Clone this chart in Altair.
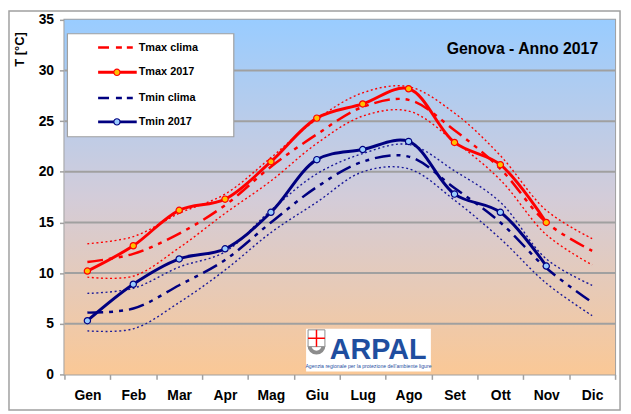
import altair as alt
import pandas as pd

months = ["Gen", "Feb", "Mar", "Apr", "Mag", "Giu", "Lug", "Ago", "Set", "Ott", "Nov", "Dic"]
tmax_2017 = [10.2, 12.7, 16.2, 17.3, 21.0, 25.3, 26.7, 28.2, 22.9, 20.7, 15.0, None]
tmin_2017 = [5.3, 8.9, 11.4, 12.4, 16.0, 21.2, 22.2, 23.0, 17.8, 16.0, 10.7, None]
tmax_clima = [11.1, 11.9, 13.9, 16.7, 20.5, 23.7, 26.4, 27.1, 24.1, 20.3, 15.0, 12.2]
tmin_clima = [6.1, 6.5, 8.8, 11.3, 15.0, 18.5, 21.0, 21.5, 18.4, 15.0, 10.5, 7.1]
tmax_hi = [12.9, 13.6, 15.9, 17.8, 21.4, 25.2, 27.8, 28.4, 25.8, 21.6, 16.2, 13.4]
tmax_lo = [9.6, 9.7, 12.5, 15.9, 19.1, 22.8, 25.5, 26.0, 23.0, 19.2, 13.8, 10.8]
tmin_hi = [8.0, 8.5, 10.6, 12.1, 16.2, 19.8, 21.8, 22.7, 20.1, 17.0, 11.4, 8.8]
tmin_lo = [4.3, 4.5, 7.1, 10.3, 14.0, 17.0, 20.0, 20.3, 17.2, 13.4, 9.0, 5.8]
y_ticks = [0, 5, 10, 15, 20, 25, 30, 35]
grid_vals = [5, 10, 15, 20, 25, 30]
legend_labels = ["Tmax clima", "Tmax 2017", "Tmin clima", "Tmin 2017"]
title_text = "Genova - Anno 2017"

FONT = "Arial, Liberation Sans, sans-serif"
W, H = 556, 358
RED = "#FF0000"
NAVY = "#000080"
GRID = "#A0A0A0"

df = pd.DataFrame({
    "month": months,
    "tmax_2017": tmax_2017, "tmin_2017": tmin_2017,
    "tmax_clima": tmax_clima, "tmin_clima": tmin_clima,
    "tmax_hi": tmax_hi, "tmax_lo": tmax_lo,
    "tmin_hi": tmin_hi, "tmin_lo": tmin_lo,
})

xscale = alt.Scale(type="band", domain=months, paddingInner=0, paddingOuter=0)
xaxis = alt.Axis(title=None, tickBand="extent", labelFont=FONT, labelFontSize=14,
                 labelFontWeight="bold", labelColor="black", tickColor=GRID,
                 tickSize=5, tickWidth=1.5, domain=False, labelPadding=9,
                 grid=False, labelAngle=0)
yscale = alt.Scale(domain=[0, 35], nice=False)
yaxis = alt.Axis(values=y_ticks, title="T [°C]", titleFont=FONT, titleFontSize=13,
                 titleFontWeight="bold", titleColor="black", titleAngle=270,
                 titleX=-45, titleY=12, titleAlign="right", titleBaseline="middle",
                 labelFont=FONT, labelFontSize=14, labelFontWeight="bold",
                 labelColor="black", tickColor=GRID, tickSize=5, tickWidth=1.5,
                 domain=False, grid=False, labelPadding=6)


def X():
    return alt.X("month:N", sort=months, scale=xscale, axis=xaxis, bandPosition=0.5)


def Y(field):
    return alt.Y(f"{field}:Q", scale=yscale, axis=yaxis)


one = pd.DataFrame({"a": [0]})
base = alt.Chart(df)

bg = alt.Chart(one).mark_rect(
    fill=alt.Gradient(gradient="linear",
                      stops=[alt.GradientStop(color="#99CCFF", offset=0),
                             alt.GradientStop(color="#D3CCD9", offset=0.5),
                             alt.GradientStop(color="#FAC896", offset=1)],
                      x1=0, x2=0, y1=0, y2=1)
).encode(x=alt.value(0), x2=alt.value(W), y=alt.value(0), y2=alt.value(H))

grid = alt.Chart(pd.DataFrame({"g": grid_vals})).mark_rule(
    color=GRID, strokeWidth=2).encode(y=Y("g"))

interp = "catmull-rom"


def dotted(field, color):
    return base.mark_line(color=color, strokeWidth=1.4, strokeDash=[2, 2.6],
                          interpolate=interp).encode(x=X(), y=Y(field))


def dashdot(field, color):
    return base.mark_line(color=color, strokeWidth=2.5, strokeDash=[16, 6, 4, 6, 4, 6],
                          interpolate=interp).encode(x=X(), y=Y(field))


def solid(field, color):
    return base.mark_line(color=color, strokeWidth=3,
                          interpolate=interp).encode(x=X(), y=Y(field))


def pts(field, fill, stroke):
    return base.mark_circle(size=40, fill=fill, stroke=stroke, strokeWidth=1.2,
                            opacity=1).encode(x=X(), y=Y(field))


series = [
    dotted("tmax_hi", RED), dotted("tmax_lo", RED),
    dotted("tmin_hi", "#1A1A9A"), dotted("tmin_lo", "#1A1A9A"),
    dashdot("tmax_clima", RED), dashdot("tmin_clima", NAVY),
    solid("tmax_2017", RED), solid("tmin_2017", NAVY),
    pts("tmax_2017", "#FFC000", RED), pts("tmin_2017", "#99CCFF", NAVY),
]

# ARPAL logo
o = alt.Chart(one)
logo = [
    o.mark_rect(fill="white").encode(x=alt.value(244), x2=alt.value(370),
                                     y=alt.value(312), y2=alt.value(355)),
    o.mark_arc(fill="#8C8C8C", theta=1.5708, theta2=4.7124, radius=9, radius2=5).encode(
        x=alt.value(254.5), y=alt.value(329)),
    o.mark_rect(fill="white", stroke="#8C8C8C", strokeWidth=1).encode(
        x=alt.value(246), x2=alt.value(263), y=alt.value(313), y2=alt.value(330)),
    o.mark_rule(color=RED, strokeWidth=1.5).encode(
        x=alt.value(254.5), y=alt.value(313), y2=alt.value(330)),
    o.mark_rule(color=RED, strokeWidth=1.5).encode(
        x=alt.value(246), x2=alt.value(263), y=alt.value(321.5)),
    o.mark_text(text="ARPAL", font=FONT, fontSize=29, fontWeight="bold",
                color="#1F4E9F", align="left",
                baseline="alphabetic").encode(x=alt.value(268), y=alt.value(342)),
    o.mark_text(text="Agenzia regionale per la protezione dell'ambiente ligure",
                font=FONT, fontSize=5.2,
                color="#1F4E9F", align="center", baseline="alphabetic").encode(
        x=alt.value(307), y=alt.value(352)),
]

# Legend
leg_y = [28, 53, 79, 103]
legend = [
    o.mark_rect(fill="white", stroke=GRID, strokeWidth=1.2).encode(
        x=alt.value(3), x2=alt.value(171), y=alt.value(14), y2=alt.value(118)),
    o.mark_rule(color=RED, strokeWidth=2.5, strokeDash=[11, 7, 6, 5, 6, 5]).encode(
        x=alt.value(34), x2=alt.value(73), y=alt.value(leg_y[0])),
    o.mark_rule(color=RED, strokeWidth=3).encode(
        x=alt.value(34), x2=alt.value(73), y=alt.value(leg_y[1])),
    o.mark_circle(size=40, fill="#FFC000", stroke=RED, strokeWidth=1.2, opacity=1).encode(
        x=alt.value(53), y=alt.value(leg_y[1])),
    o.mark_rule(color=NAVY, strokeWidth=2.5, strokeDash=[11, 7, 6, 5, 6, 5]).encode(
        x=alt.value(34), x2=alt.value(73), y=alt.value(leg_y[2])),
    o.mark_rule(color=NAVY, strokeWidth=3).encode(
        x=alt.value(34), x2=alt.value(73), y=alt.value(leg_y[3])),
    o.mark_circle(size=40, fill="#99CCFF", stroke=NAVY, strokeWidth=1.2, opacity=1).encode(
        x=alt.value(53), y=alt.value(leg_y[3])),
]
for lbl, yy in zip(legend_labels, leg_y):
    legend.append(o.mark_text(text=lbl, font=FONT, fontSize=11, fontWeight="bold",
                              color="black", align="left", baseline="middle").encode(
        x=alt.value(75), y=alt.value(yy)))

title = o.mark_text(text=title_text, font=FONT, fontSize=16, fontWeight="bold",
                    color="black", align="right", baseline="alphabetic").encode(
    x=alt.value(539), y=alt.value(34))

frame = o.mark_rect(fill=None, stroke=GRID, strokeWidth=1.5).encode(
    x=alt.value(-56), x2=alt.value(561), y=alt.value(-9), y2=alt.value(394))

chart = alt.layer(bg, grid, *series, *logo, *legend, title, frame).properties(
    width=W, height=H,
    autosize=alt.AutoSizeParams(type="none"),
    padding={"left": 57, "top": 10, "right": 8, "bottom": 37},
    background="white",
).configure_view(stroke=GRID, strokeWidth=2)

chart.save("out.html", embed_options={"renderer": "svg", "actions": False})
